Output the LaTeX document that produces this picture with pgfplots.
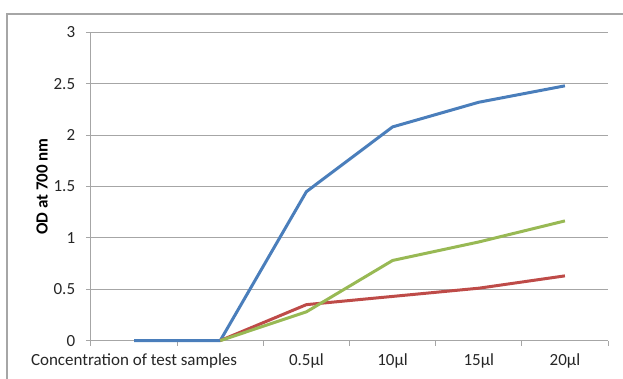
\documentclass[border=0pt]{standalone}
\usepackage{pgfplots}
\pgfplotsset{compat=1.18}
\usepackage{fontspec}
\setmainfont{Carlito}

\definecolor{serblue}{HTML}{4A7EBB}
\definecolor{serred}{HTML}{BE4B48}
\definecolor{sergreen}{HTML}{98B954}
\definecolor{gridgray}{HTML}{A6A6A6}
\definecolor{txt}{HTML}{262626}

\begin{document}
\fontsize{17}{20}\selectfont
\begin{tikzpicture}
% outer chart frame (left and top edges only)
\useasboundingbox (-91pt,-38.4pt) rectangle (532pt,340.6pt);
\draw[gridgray, line width=1.2pt] (-84pt,-38.4pt) -- (-84pt,326.6pt) -- (532pt,326.6pt);
\begin{axis}[
  at={(0,0)}, anchor=south west,
  scale only axis,
  width=517pt, height=308.2pt,
  xmin=-0.5, xmax=5.5,
  ymin=0, ymax=3,
  ytick={0,0.5,...,3},
  yticklabels={0,0.5,1,1.5,2,2.5,3},
  xtick={0,...,5},
  xticklabels={Concentration of test samples,,0.5µl,10µl,15µl,20µl},
  minor xtick={-0.5,0.5,...,5.5},
  axis lines=left,
  axis line style={-, draw=gridgray, line width=1pt},
  ymajorgrids,
  major grid style={gridgray, line width=1pt},
  tick align=outside,
  x tick style={draw=none},
  minor x tick style={draw=gridgray, line width=1pt},
  minor tick length=5pt,
  y tick style={draw=gridgray, line width=1pt},
  major tick length=5pt,
  tick label style={font=\fontsize{17}{20}\selectfont, text=txt},
  yticklabel style={xshift=-5pt},
  xticklabel style={yshift=-2pt},
  /pgf/number format/assume math mode=true,
  ylabel={\textbf{OD at 700 nm}},
  ylabel style={font=\fontsize{17}{20}\selectfont, text=black, at={(-49pt,154pt)}, anchor=center, rotate=0},
  every axis plot/.append style={line width=3pt, no markers, line join=round},
  clip=false,
]
\addplot[serblue] coordinates {(0,0) (1,0) (2,1.45) (3,2.08) (4,2.32) (5,2.48)};
\addplot[serred] coordinates {(1,0) (2,0.35) (3,0.43) (4,0.51) (5,0.63)};
\addplot[sergreen] coordinates {(1,0) (2,0.28) (3,0.78) (4,0.96) (5,1.165)};
\end{axis}
\end{tikzpicture}
\end{document}
